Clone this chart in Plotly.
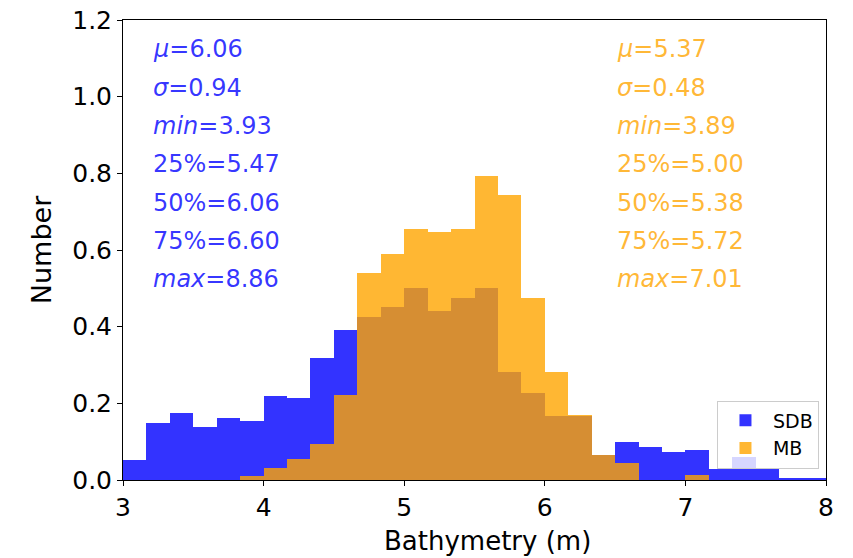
import plotly.graph_objects as go

# Histogram bins (density-normalised), 30 bins from 3 to 8
bin_start = 3.0
bin_width = 1.0 / 6.0

sdb_density = [0.052, 0.149, 0.176, 0.137, 0.161, 0.154, 0.220, 0.215, 0.319, 0.391,
               0.424, 0.452, 0.502, 0.441, 0.474, 0.502, 0.282, 0.226, 0.168, 0.168,
               0.065, 0.100, 0.087, 0.074, 0.078, 0.030, 0.060, 0.030, 0.006, 0.006]
mb_density = [0.0, 0.0, 0.0, 0.0, 0.0, 0.011, 0.032, 0.054, 0.094, 0.222,
              0.539, 0.589, 0.655, 0.646, 0.655, 0.793, 0.744, 0.474, 0.282, 0.170,
              0.065, 0.045, 0.0, 0.0, 0.012, 0.0, 0.0, 0.0, 0.0, 0.0]

sdb_stats = ["<i>μ</i>=6.06", "<i>σ</i>=0.94", "<i>min</i>=3.93", "25%=5.47",
             "50%=6.06", "75%=6.60", "<i>max</i>=8.86"]
mb_stats = ["<i>μ</i>=5.37", "<i>σ</i>=0.48", "<i>min</i>=3.89", "25%=5.00",
            "50%=5.38", "75%=5.72", "<i>max</i>=7.01"]

x_ticks = [3, 4, 5, 6, 7, 8]
y_ticks = [0.0, 0.2, 0.4, 0.6, 0.8, 1.0, 1.2]

centers = [bin_start + (i + 0.5) * bin_width for i in range(len(sdb_density))]

BLUE = "rgba(0,0,255,0.8)"
ORANGE = "rgba(255,165,0,0.8)"
FONT = "DejaVu Sans"

fig = go.Figure()
fig.add_trace(go.Bar(x=centers, y=sdb_density, width=bin_width, name="SDB",
                     marker=dict(color=BLUE, line=dict(width=0))))
fig.add_trace(go.Bar(x=centers, y=mb_density, width=bin_width, name="MB",
                     marker=dict(color=ORANGE, line=dict(width=0))))

annotations = []
for i, (s1, s2) in enumerate(zip(sdb_stats, mb_stats)):
    yb = 1.1 - 0.1 * i + 0.0235
    annotations.append(dict(x=3.2, y=yb, xref="x", yref="y", text=s1, showarrow=False,
                            xanchor="left", yanchor="middle",
                            font=dict(family=FONT, size=24, color=BLUE)))
    annotations.append(dict(x=6.5, y=yb, xref="x", yref="y", text=s2, showarrow=False,
                            xanchor="left", yanchor="middle",
                            font=dict(family=FONT, size=24, color=ORANGE)))

# x-axis title placed as an annotation, kept just inside the page bottom
annotations.append(dict(x=0.519, y=-0.132, xref="paper", yref="paper", text="Bathymetry (m)",
                        showarrow=False, xanchor="center", yanchor="middle",
                        font=dict(family=FONT, size=26, color="black")))

fig.update_layout(
    width=853, height=558,
    margin=dict(l=123, r=27, t=20, b=78),
    barmode="overlay", bargap=0,
    plot_bgcolor="white", paper_bgcolor="white",
    font=dict(family=FONT, color="black"),
    annotations=annotations,
    showlegend=True,
    legend=dict(x=0.99, y=0.025, xanchor="right", yanchor="bottom",
                bgcolor="rgba(255,255,255,0.8)", bordercolor="#cccccc", borderwidth=1,
                font=dict(family=FONT, size=19), itemwidth=45, tracegroupgap=2),
    xaxis=dict(range=[3, 8], tickvals=x_ticks, ticktext=[str(v) for v in x_ticks],
               showline=True, linecolor="black", linewidth=1, mirror=True,
               ticks="outside", ticklen=5, tickcolor="black", showgrid=False, zeroline=False,
               tickfont=dict(family=FONT, size=25), automargin=False),
    yaxis=dict(range=[0, 1.2], tickvals=y_ticks, ticktext=[f"{v:.1f}" for v in y_ticks],
               showline=True, linecolor="black", linewidth=1, mirror=True,
               ticks="outside", ticklen=5, tickcolor="black", showgrid=False, zeroline=False,
               tickfont=dict(family=FONT, size=25), automargin=False,
               title=dict(text="Number", font=dict(family=FONT, size=27), standoff=12)),
)

fig.write_html("out.html")
